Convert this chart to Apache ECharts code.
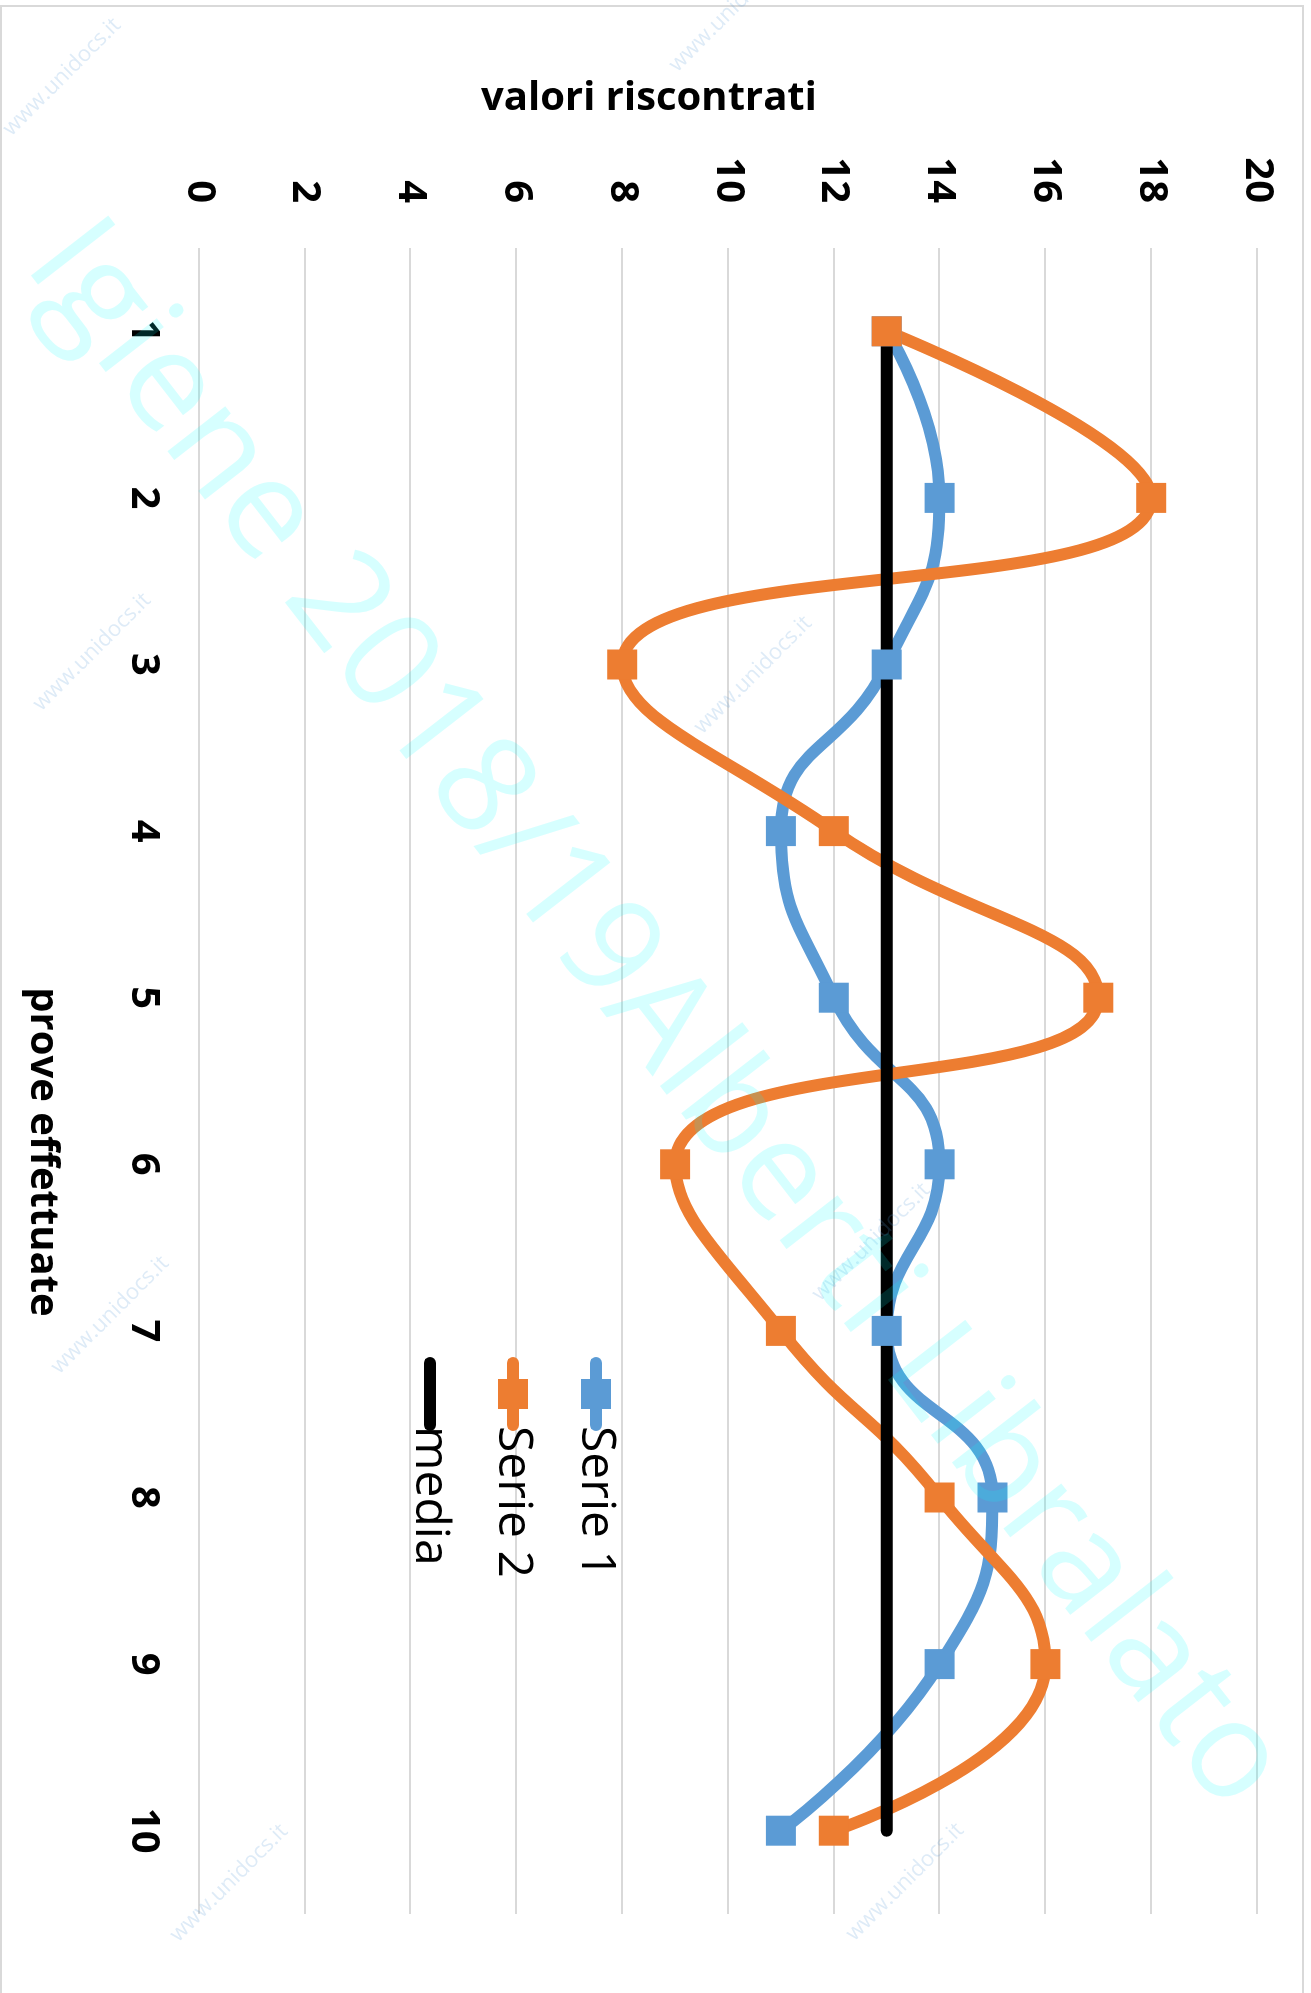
<!DOCTYPE html>
<html>
<head>
<meta charset="utf-8">
<script src="https://cdn.jsdelivr.net/npm/echarts@6/dist/echarts.min.js"></script>
<style>
    html, body { margin: 0; padding: 0; width: 1311px; height: 1993px; overflow: hidden; background: #fff; }
    .frame { position: absolute; left: 0; top: 5px; width: 1300px; height: 2000px; border: 2px solid #d9d9d9; border-bottom: none; }
    /* the chart is drawn landscape and turned a quarter clockwise, as in the source */
    #chart { position: absolute; left: 0; top: 0; width: 1993px; height: 1311px; transform-origin: 0 0; transform: translateX(1311px) rotate(90deg); }
</style>
</head>
<body>
<div class="frame"></div>
<div id="chart"></div>
<script>
var categories = ['1', '2', '3', '4', '5', '6', '7', '8', '9', '10'];
var serie1 = [13, 14, 13, 11, 12, 14, 13, 15, 14, 11];
var serie2 = [13, 18, 8, 12, 17, 9, 11, 14, 16, 12];
var media = [13, 13, 13, 13, 13, 13, 13, 13, 13, 13];
var valueTicks = { min: 0, max: 20, interval: 2 };

var FONT = '"Open Sans", "Liberation Sans", sans-serif';

// faint site stamps spread over the sheet (centre u, v in the landscape frame)
var stampSpots = [[77, 1249], [13, 583], [652, 1219], [675, 558], [1315, 1201], [1242, 440], [1883, 1082], [1882, 406]];

var chart = echarts.init(document.getElementById('chart'), null, { renderer: 'canvas' });

var lineSeries = function (name, data, color, withSymbol) {
    return {
        name: name,
        type: 'line',
        data: data,
        smooth: withSymbol ? 0.5 : false,
        symbol: withSymbol ? 'rect' : 'none',
        symbolSize: 30,
        showSymbol: withSymbol,
        lineStyle: { color: color, width: 12, cap: 'round', join: 'round' },
        itemStyle: { color: color },
        emphasis: { disabled: true }
    };
};

var graphics = [
    {
        type: 'text',
        x: 99,
        y: 662,
        rotation: Math.PI / 2,
        style: { text: 'valori riscontrati', fill: '#000', font: 'bold 40px ' + FONT, textAlign: 'center', textVerticalAlign: 'middle' }
    },
    {
        type: 'text',
        x: 1152,
        y: 1269,
        style: { text: 'prove effettuate', fill: '#000', font: 'bold 40px ' + FONT, textAlign: 'center', textVerticalAlign: 'middle' }
    }
];

var stamps = stampSpots.map(function (p) {
    return {
        type: 'text',
        x: p[0],
        y: p[1],
        z: 90,
        rotation: Math.PI * 3 / 4,
        silent: true,
        style: { text: 'www.unidocs.it', fill: 'rgba(91, 155, 213, 0.2)', font: '22px ' + FONT, textAlign: 'center', textVerticalAlign: 'middle' }
    };
});
graphics = graphics.concat(stamps);

graphics.push({
    type: 'text',
    x: 1016,
    y: 656,
    z: 100,
    rotation: 0.66,
    silent: true,
    style: { text: 'Igiene 2018/19Alberti Libralato', fill: 'rgba(0, 255, 255, 0.16)', font: '137px ' + FONT, textAlign: 'center', textVerticalAlign: 'middle' }
});

var option = {
    animation: false,
    backgroundColor: 'transparent',
    grid: {
        left: 248,
        right: 79,
        top: 54,
        bottom: 199
    },
    legend: {
        orient: 'vertical',
        left: 1352,
        top: 686,
        itemWidth: 62,
        itemHeight: 37.5,
        itemGap: 35,
        lineStyle: { width: 12, cap: 'round' },
        textStyle: { color: '#000', fontSize: 48, lineHeight: 48, fontFamily: FONT, padding: [0, 0, 0, -4] },
        data: ['Serie 1', 'Serie 2', { name: 'media', itemStyle: { opacity: 0 } }]
    },
    xAxis: {
        type: 'category',
        data: categories,
        boundaryGap: true,
        axisLine: { show: false },
        axisTick: { show: false },
        axisLabel: { color: '#000', fontSize: 40, fontWeight: 'bold', fontFamily: FONT, margin: 36 }
    },
    yAxis: {
        type: 'value',
        min: valueTicks.min,
        max: valueTicks.max,
        interval: valueTicks.interval,
        axisLine: { show: false },
        axisTick: { show: false },
        axisLabel: { color: '#000', fontSize: 40, fontWeight: 'bold', fontFamily: FONT, margin: 45 },
        splitLine: { lineStyle: { color: '#d9d9d9', width: 2 } }
    },
    graphic: graphics,
    series: [
        lineSeries('Serie 1', serie1, '#5b9bd5', true),
        lineSeries('Serie 2', serie2, '#ed7d31', true),
        lineSeries('media', media, '#000000', false)
    ]
};

chart.setOption(option);
</script>
</body>
</html>
